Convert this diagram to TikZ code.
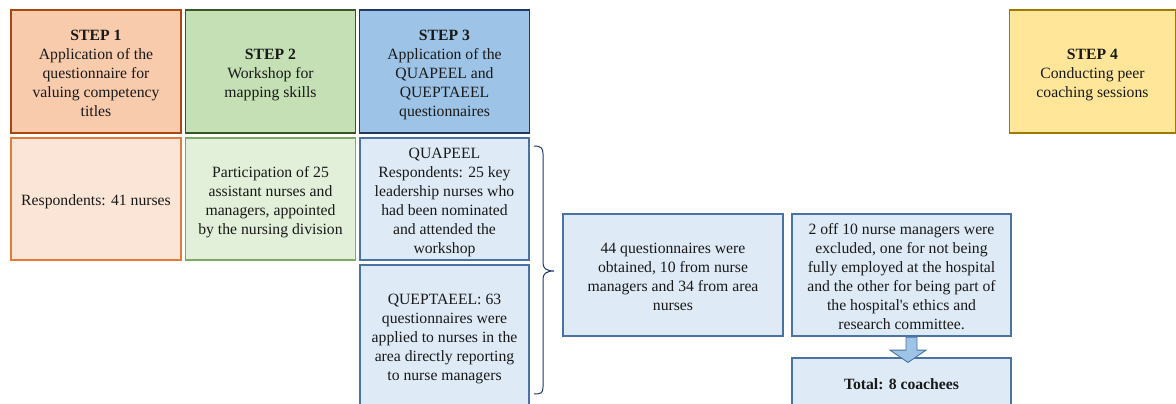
\documentclass[tikz,border=0pt]{standalone}
\usepackage{fontspec}
\setmainfont{Liberation Serif}
\usetikzlibrary{calc}
\definecolor{orTop}{HTML}{F8CBAD}
\definecolor{orTopB}{HTML}{A9470F}
\definecolor{orBot}{HTML}{FBE5D6}
\definecolor{orBotB}{HTML}{E07B39}
\definecolor{grTop}{HTML}{C5E0B4}
\definecolor{grTopB}{HTML}{385723}
\definecolor{grBot}{HTML}{E2F0D9}
\definecolor{grBotB}{HTML}{7FA864}
\definecolor{blTop}{HTML}{9DC3E6}
\definecolor{blTopB}{HTML}{1F3864}
\definecolor{blBot}{HTML}{DEEBF7}
\definecolor{blBotB}{HTML}{4A73A4}
\definecolor{yeTop}{HTML}{FFE699}
\definecolor{yeTopB}{HTML}{A07A00}
\definecolor{braceC}{HTML}{203864}
\newcommand{\tb}[1]{\raisebox{-3pt}[\height][\depth]{\begin{tabular}{@{}c@{}}#1\end{tabular}}}
\tikzset{
  txt/.style={font=\fontsize{15.7}{19}\selectfont, inner sep=0pt, text=black!90},
  topbox/.style={txt, draw, line width=1.7pt},
  botbox/.style={txt, draw, line width=1.1pt},
}
\begin{document}
\begin{tikzpicture}[x=1pt,y=-1pt]
\useasboundingbox (0,0) rectangle (1176,404);
\clip (0,0) rectangle (1176,404);
% top row
\node[topbox, fill=orTop, draw=orTopB, minimum width=170pt, minimum height=123pt] (s1) at (96,71.5)
  {\tb{\textbf{STEP 1}\\Application of the\\questionnaire for\\valuing competency\\titles}};
\node[topbox, fill=grTop, draw=grTopB, minimum width=170pt, minimum height=123pt] (s2) at (270.5,71.5)
  {\tb{\textbf{STEP 2}\\Workshop for\\mapping skills}};
\node[topbox, fill=blTop, draw=blTopB, minimum width=170pt, minimum height=123pt] (s3) at (444.5,71.5)
  {\tb{\textbf{STEP 3}\\Application of the\\QUAPEEL and\\QUEPTAEEL\\questionnaires}};
\node[topbox, fill=yeTop, draw=yeTopB, minimum width=166pt, minimum height=123pt] (s4) at (1092.5,71.5)
  {\tb{\textbf{STEP 4}\\Conducting peer\\coaching sessions}};
% second row
\node[botbox, fill=orBot, draw=orBotB, minimum width=170pt, minimum height=122pt] (r1) at (96,199)
  {\tb{Respondents: 41 nurses}};
\node[botbox, fill=grBot, draw=grBotB, minimum width=170pt, minimum height=122pt] (r2) at (270.5,199)
  {\tb{Participation of 25\\assistant nurses and\\managers, appointed\\by the nursing division}};
\node[botbox, fill=blBot, draw=blBotB, minimum width=169pt, minimum height=122pt] (q1) at (444.5,199)
  {\tb{QUAPEEL\\Respondents: 25 key\\leadership nurses who\\had been nominated\\and attended the\\workshop}};
\node[botbox, fill=blBot, draw=blBotB, minimum width=169pt, minimum height=141pt] (q2) at (444.5,335.5)
  {\tb{QUEPTAEEL: 63\\questionnaires were\\applied to nurses in the\\area directly reporting\\to nurse managers}};
% brace
\coordinate (bt) at (534,146);
\coordinate (bb) at (534,394);
\coordinate (btip) at (554,271);
\draw[braceC, line width=1pt] (bt) .. controls (541,146) and (543,148) .. (543,154)
  -- (543,263) .. controls (543,268) and (546,271) .. (btip)
  .. controls (546,271) and (543,274) .. (543,279)
  -- (543,387) .. controls (543,393) and (541,394) .. (bb);
% results
\node[botbox, fill=blBot, draw=blBotB, minimum width=220pt, minimum height=122pt] (res) at (673,275)
  {\tb{44 questionnaires were\\obtained, 10 from nurse\\managers and 34 from area\\nurses}};
\node[botbox, fill=blBot, draw=blBotB, minimum width=219pt, minimum height=122pt] (exc) at (901.5,275)
  {\tb{2 off 10 nurse managers were\\excluded, one for not being\\fully employed at the hospital\\and the other for being part of\\the hospital\textquotesingle s ethics and\\research committee.}};
\node[botbox, fill=blBot, draw=blBotB, minimum width=219pt, minimum height=52pt] (tot) at (901.5,384)
  {\textbf{Total: 8 coachees}};
% block arrow
\draw[fill=blTop, draw=blBotB, line width=0.9pt, line join=miter]
  ($(exc.south)+(4.5,0.6)$) -- ++(0,13) -- ++(-16,0) -- ($(tot.north)+(6.5,5)$)
  -- ($(exc.south)+(24.5,13.6)$) -- ++(-9,0) -- ++(0,-13) -- cycle;
\end{tikzpicture}
\end{document}
